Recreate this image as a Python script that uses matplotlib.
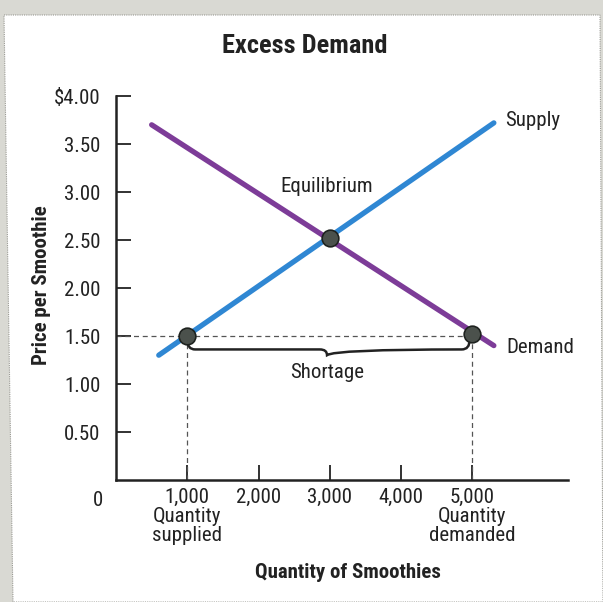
import matplotlib
matplotlib.use("Agg")
import matplotlib.pyplot as plt
from matplotlib.patches import Polygon
from matplotlib.path import Path
from matplotlib.patches import PathPatch

plt.rcParams['font.family'] = ['Roboto Condensed', 'DejaVu Sans']

# data (quantity in smoothies, price in dollars)
supply_q = [600, 5300]
supply_p = [1.30, 3.72]
demand_q = [500, 5300]
demand_p = [3.70, 1.40]

point_q = [1000, 3000, 5000]
point_p = [1.50, 2.52, 1.52]

qty_supplied = 1000
qty_demanded = 5000
price_floor = 1.50

y_ticks = [0.5, 1.0, 1.5, 2.0, 2.5, 3.0, 3.5, 4.0]
y_labels = ["0.50", "1.00", "1.50", "2.00", "2.50", "3.00", "3.50", "$4.00"]
x_ticks = [1000, 2000, 3000, 4000, 5000]
x_labels = ["1,000\nQuantity\nsupplied", "2,000", "3,000", "4,000",
            "5,000\nQuantity\ndemanded"]

# brace under the shortage
brace_q = [1000, 1000, 1110, 2860, 2960, 2960, 3060, 4850, 4960, 4960]
brace_p = [1.46, 1.36, 1.36, 1.36, 1.36, 1.30, 1.36, 1.36, 1.36, 1.46]

ink = '#222222'
W, H = 603, 602
fig = plt.figure(figsize=(W / 100, H / 100), dpi=100)
fig.patch.set_facecolor('#d9d9d3')

# white page of the scan
page = Polygon([(4 / W, 1 - 15 / H), (600 / W, 1 - 15 / H), (603 / W, 0), (13 / W, 0)],
               closed=True, transform=fig.transFigure, facecolor='white',
               edgecolor='#9a9a94', lw=0.8, ls=(0, (1, 1)), zorder=-5)
fig.patches.append(page)

ax = fig.add_axes([116 / W, (H - 480) / H, (568 - 116) / W, (480 - 96) / H])
ax.set_facecolor('none')
ax.set_xlim(0, 6340)
ax.set_ylim(0, 4.0)

for s in ['top', 'right']:
    ax.spines[s].set_visible(False)
for s in ['left', 'bottom']:
    ax.spines[s].set_linewidth(1.8)
    ax.spines[s].set_color(ink)

ax.set_yticks(y_ticks)
ax.set_yticklabels(y_labels)
ax.set_xticks(x_ticks)
ax.set_xticklabels(x_labels, linespacing=1.0)
ax.tick_params(axis='y', direction='in', length=11, width=1.3, color=ink,
               pad=11, labelsize=15, labelcolor=ink)
ax.tick_params(axis='x', direction='in', length=11, width=1.3, color=ink,
               pad=6, labelsize=15, labelcolor=ink)
ax.annotate("0", xy=(0, 0), xytext=(-13, -8), textcoords='offset points',
            ha='center', va='top', fontsize=15, color=ink)

# dashed guides
ax.plot([0, qty_demanded], [price_floor, price_floor], ls=(0, (4, 3)),
        color='#555555', lw=0.9, zorder=2)
ax.plot([qty_supplied, qty_supplied], [0, price_floor], ls=(0, (4, 3)),
        color='#555555', lw=0.9, zorder=2)
ax.plot([qty_demanded, qty_demanded], [0, price_floor], ls=(0, (4, 3)),
        color='#555555', lw=0.9, zorder=2)

# curves
ax.plot(supply_q, supply_p, color='#2f87d3', lw=3.8, solid_capstyle='round', zorder=3)
ax.plot(demand_q, demand_p, color='#7d3c98', lw=3.8, solid_capstyle='round', zorder=3)
ax.plot(point_q, point_p, 'o', ms=12, mfc='#4b514c', mec='#1e221f', mew=1.2, zorder=4)

# brace
codes = [Path.MOVETO, Path.CURVE3, Path.CURVE3, Path.LINETO, Path.CURVE3, Path.CURVE3,
         Path.CURVE3, Path.LINETO, Path.CURVE3, Path.CURVE3]
brace = PathPatch(Path(list(zip(brace_q, brace_p)), codes), fill=False,
                  edgecolor=ink, lw=1.8, zorder=3)
ax.add_patch(brace)

ax.text(2960, 1.125, "Shortage", ha='center', va='center', fontsize=15, color=ink)
ax.text(2950, 3.06, "Equilibrium", ha='center', va='center', fontsize=15, color=ink)
ax.text(5460, 3.74, "Supply", ha='left', va='center', fontsize=15, color=ink)
ax.text(5480, 1.385, "Demand", ha='left', va='center', fontsize=15, color=ink)

fig.text(305 / W, 1 - 53 / H, "Excess Demand", ha='center', va='baseline',
         fontsize=19, fontweight='bold', color=ink)
fig.text(42 / W, 1 - 285 / H, "Price per Smoothie", ha='center', va='center',
         rotation=90, fontsize=15, fontweight='bold', color=ink)
fig.text(348 / W, 1 - 573 / H, "Quantity of Smoothies", ha='center', va='center',
         fontsize=15, fontweight='bold', color=ink)

fig.savefig("out.png", dpi=100)
